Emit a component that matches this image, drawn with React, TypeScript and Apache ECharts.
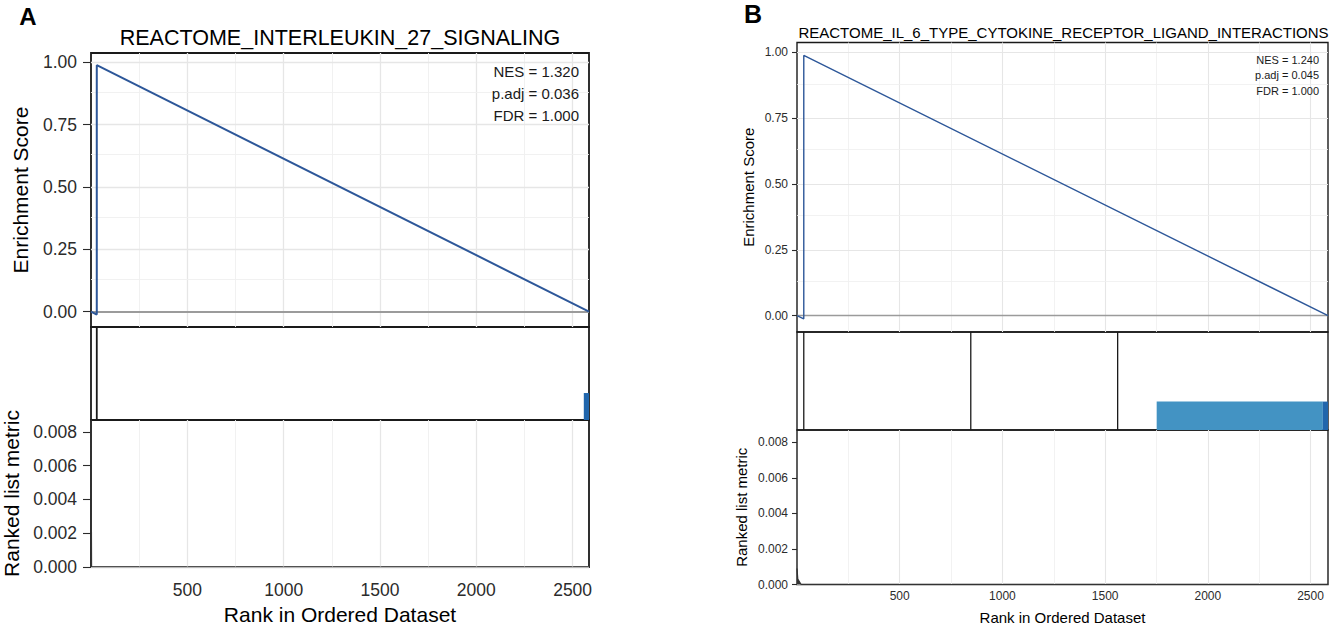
import React, { useEffect, useRef } from "react";
import * as echarts from "echarts";

// ---------- data ----------
const N_GENES = 2585;
const X_TICKS = [500, 1000, 1500, 2000, 2500];
const X_GRID = [250, 500, 750, 1000, 1250, 1500, 1750, 2000, 2250, 2500];
const ES_RANGE = [-0.062, 1.037];
const ES_TICKS = [0, 0.25, 0.5, 0.75, 1];
const ES_GRID = [0.125, 0.25, 0.375, 0.5, 0.625, 0.75, 0.875, 1];
const METRIC_RANGE = [0, 0.0087];
const METRIC_TICKS = [0, 0.002, 0.004, 0.006, 0.008];
const METRIC_GRID = [0.001, 0.002, 0.003, 0.004, 0.005, 0.006, 0.007, 0.008];

const A_LETTER = "A";
const A_TITLE = "REACTOME_INTERLEUKIN_27_SIGNALING";
const A_STATS = ["NES = 1.320", "p.adj = 0.036", "FDR = 1.000"];
const A_ES = [[0, 0], [30, -0.012], [30, 0.988], [2585, 0]];
const A_HITS = [30];
const A_BANDS = [[2558, 2585, 0.29, 1]]; // start, end, height, colour level
const A_METRIC = [[0, 0.0087], [3, 0], [2585, 0]];

const B_LETTER = "B";
const B_TITLE = "REACTOME_IL_6_TYPE_CYTOKINE_RECEPTOR_LIGAND_INTERACTIONS";
const B_STATS = ["NES = 1.240", "p.adj = 0.045", "FDR = 1.000"];
const B_ES = [[0, 0], [33, -0.012], [33, 0.988], [2585, 0]];
const B_HITS = [33, 846, 1561];
const B_BANDS = [[1751, 2560, 0.29, 0], [2560, 2585, 0.29, 1]];
const B_METRIC = [[0, 0.0009], [4, 0.0003], [20, 0], [2585, 0]];

const Y_TITLE_ES = "Enrichment Score";
const Y_TITLE_METRIC = "Ranked list metric";
const X_TITLE = "Rank in Ordered Dataset";

// ---------- styles / layout ----------
const FONT = "'Liberation Sans', Arial, Helvetica, sans-serif";
const BAND_COLORS = ["#4393C3", "#2166AC"];
const GRID_MAJOR = "#E6E6E6";
const GRID_MINOR = "#EFEFEF";
const LINE_COLOR = "#2D5799";

const LAYOUT_A = {
  left: 91, width: 498, esTop: 53, esBottom: 327, hitBottom: 420, metricBottom: 567,
  tickFont: 17.5, titleFont: 21.5, statFont: 15, axisTitleFont: 21, letterFont: 24,
  letterX: 28, letterY: 16, titleX: 340, titleY: 38, statX: 579, statYs: [71, 93, 115],
  esTitleX: 20, metricTitleX: 11, xTitleY: 614.5, tickLen: 8, tickMargin: 14, xLabelMargin: 13.5,
  esLineWidth: 2, borderWidth: 1.8, hitWidth: 1.8, gridW: [1.3, 0.9],
};
const LAYOUT_B = {
  left: 797, width: 531, esTop: 42.5, esBottom: 332, hitBottom: 430, metricBottom: 584.5,
  tickFont: 12, titleFont: 15, statFont: 11, axisTitleFont: 15, letterFont: 25,
  letterX: 753, letterY: 14, titleX: 1063.5, titleY: 32, statX: 1319, statYs: [59.5, 75, 90.5],
  esTitleX: 748, metricTitleX: 741.5, xTitleY: 617.5, tickLen: 5, tickMargin: 9, xLabelMargin: 5.5,
  esLineWidth: 1.4, borderWidth: 1.4, hitWidth: 1.3, gridW: [1.1, 0.8],
};

type Panel = {
  letter: string; title: string; stats: string[]; es: number[][]; hits: number[];
  bands: number[][]; metric: number[][];
};

const PANELS: Panel[] = [
  { letter: A_LETTER, title: A_TITLE, stats: A_STATS, es: A_ES, hits: A_HITS, bands: A_BANDS, metric: A_METRIC },
  { letter: B_LETTER, title: B_TITLE, stats: B_STATS, es: B_ES, hits: B_HITS, bands: B_BANDS, metric: B_METRIC },
];
const LAYOUTS = [LAYOUT_A, LAYOUT_B];

function gridLines(values: number[], key: "xAxis" | "yAxis", L: any, majorStep: number) {
  return values.map((v) => {
    const r = v / majorStep;
    const major = Math.abs(r - Math.round(r)) < 1e-6;
    return {
      [key]: v,
      lineStyle: { color: major ? GRID_MAJOR : GRID_MINOR, width: major ? L.gridW[0] : L.gridW[1], type: "solid" },
    };
  });
}

function buildPanel(pi: number, P: Panel, L: any) {
  const g0 = pi * 3, g1 = g0 + 1, g2 = g0 + 2;
  const border = { show: true, borderColor: "#1a1a1a", borderWidth: L.borderWidth, backgroundColor: "transparent" };
  const grids = [
    { ...border, left: L.left, top: L.esTop, width: L.width, height: L.esBottom - L.esTop },
    { ...border, left: L.left, top: L.esBottom, width: L.width, height: L.hitBottom - L.esBottom },
    { ...border, left: L.left, top: L.hitBottom, width: L.width, height: L.metricBottom - L.hitBottom },
  ];
  const labelStyle = { fontSize: L.tickFont, color: "#2b2b2b", fontFamily: FONT };
  const tickStyle = { show: true, length: L.tickLen, lineStyle: { color: "#2b2b2b", width: 1.1 } };
  const xAxes = [
    { type: "value", gridIndex: g0, min: 0, max: N_GENES, show: false },
    { type: "value", gridIndex: g1, min: 0, max: N_GENES, show: false },
    {
      type: "value", gridIndex: g2, min: 0, max: N_GENES,
      axisLine: { show: false }, axisTick: { show: false }, splitLine: { show: false },
      axisLabel: { ...labelStyle, customValues: X_TICKS, margin: L.xLabelMargin, formatter: (v: number) => String(Math.round(v)) },
    },
  ];
  const yAxes = [
    {
      type: "value", gridIndex: g0, min: ES_RANGE[0], max: ES_RANGE[1],
      axisLine: { show: false }, splitLine: { show: false },
      axisTick: { ...tickStyle, customValues: ES_TICKS },
      axisLabel: { ...labelStyle, customValues: ES_TICKS, margin: L.tickMargin, formatter: (v: number) => v.toFixed(2) },
    },
    { type: "value", gridIndex: g1, min: 0, max: 1, show: false },
    {
      type: "value", gridIndex: g2, min: METRIC_RANGE[0], max: METRIC_RANGE[1],
      axisLine: { show: false }, splitLine: { show: false },
      axisTick: { ...tickStyle, customValues: METRIC_TICKS },
      axisLabel: { ...labelStyle, customValues: METRIC_TICKS, margin: L.tickMargin, formatter: (v: number) => v.toFixed(3) },
    },
  ];
  const markBase = { silent: true, symbol: ["none", "none"], label: { show: false }, z: 1, animation: false, emphasis: { disabled: true } };
  const series: any[] = [
    {
      type: "line", xAxisIndex: g0, yAxisIndex: g0, data: [[0, 0]], symbol: "none", silent: true, z: 1,
      lineStyle: { opacity: 0 },
      markLine: {
        ...markBase,
        data: [
          ...gridLines(X_GRID, "xAxis", L, 500),
          ...gridLines(ES_GRID, "yAxis", L, 0.25),
          { yAxis: 0, lineStyle: { color: "#9b9b9b", width: L.esLineWidth * 0.9, type: "solid" } },
        ],
      },
    },
    {
      type: "line", xAxisIndex: g0, yAxisIndex: g0, data: P.es, symbol: "none", silent: true, z: 3,
      lineStyle: { color: LINE_COLOR, width: L.esLineWidth }, clip: false,
    },
    {
      type: "custom", xAxisIndex: g1, yAxisIndex: g1, silent: true, z: 3,
      data: P.hits.map((h) => [h, 1]), encode: { x: 0, y: 1 },
      renderItem: (_p: any, api: any) => {
        const x = api.value(0);
        const a = api.coord([x, 0]);
        const b = api.coord([x, 1]);
        return { type: "line", shape: { x1: a[0], y1: a[1], x2: b[0], y2: b[1] }, style: { stroke: "#1a1a1a", lineWidth: L.hitWidth } };
      },
    },
    {
      type: "custom", xAxisIndex: g1, yAxisIndex: g1, silent: true, z: 2,
      data: P.bands, encode: { x: [0, 1], y: 2 },
      renderItem: (params: any, api: any) => {
        const a = api.coord([api.value(0), api.value(2)]);
        const b = api.coord([api.value(1), 0]);
        const c = BAND_COLORS[P.bands[params.dataIndex][3]];
        return { type: "rect", shape: { x: a[0], y: a[1], width: b[0] - a[0], height: b[1] - a[1] }, style: { fill: c } };
      },
    },
    {
      type: "line", xAxisIndex: g2, yAxisIndex: g2, data: [[0, 0]], symbol: "none", silent: true, z: 1,
      lineStyle: { opacity: 0 },
      markLine: {
        ...markBase,
        data: [...gridLines(X_GRID, "xAxis", L, 500), ...gridLines(METRIC_GRID, "yAxis", L, 0.002)],
      },
    },
    {
      type: "line", xAxisIndex: g2, yAxisIndex: g2, data: P.metric, symbol: "none", silent: true, z: 3,
      lineStyle: { color: "#333333", width: 1.2 }, areaStyle: { color: "#333333", opacity: 1 },
    },
  ];
  const txt = (text: string, x: number, y: number, size: number, opts: any = {}) => ({
    type: "text", x, y, silent: true, rotation: opts.rotation || 0, z: 10,
    style: {
      text, fontSize: size, fontFamily: FONT, fontWeight: opts.bold ? "bold" : "normal", fill: opts.fill || "#000",
      textAlign: opts.align || "center", textVerticalAlign: "middle", align: opts.align || "center", verticalAlign: "middle",
    },
  });
  const midEs = (L.esTop + L.esBottom) / 2;
  const midMetric = (L.hitBottom + L.metricBottom) / 2;
  const graphics = [
    txt(P.letter, L.letterX, L.letterY, L.letterFont, { bold: true }),
    txt(P.title, L.titleX, L.titleY, L.titleFont),
    ...P.stats.map((s, i) => txt(s, L.statX, L.statYs[i], L.statFont, { align: "right", fill: "#1a1a1a" })),
    txt(Y_TITLE_ES, L.esTitleX, midEs, L.axisTitleFont, { rotation: Math.PI / 2 }),
    txt(Y_TITLE_METRIC, L.metricTitleX, midMetric, L.axisTitleFont, { rotation: Math.PI / 2 }),
    txt(X_TITLE, L.left + L.width / 2, L.xTitleY, L.axisTitleFont),
  ];
  return { grids, xAxes, yAxes, series, graphics };
}

export default function App() {
  const ref = useRef<HTMLDivElement>(null);
  useEffect(() => {
    document.body.style.margin = "0";
    if (!ref.current) return;
    const chart = echarts.init(ref.current, undefined, { renderer: "svg" });
    const parts = PANELS.map((p, i) => buildPanel(i, p, LAYOUTS[i]));
    const option: any = {
      animation: false,
      backgroundColor: "#ffffff",
      grid: parts.flatMap((p) => p.grids),
      xAxis: parts.flatMap((p) => p.xAxes),
      yAxis: parts.flatMap((p) => p.yAxes),
      series: parts.flatMap((p) => p.series),
      graphic: { elements: parts.flatMap((p) => p.graphics) },
    };
    chart.setOption(option);
    return () => chart.dispose();
  }, []);
  return <div ref={ref} style={{ width: 1331, height: 626 }} />;
}
